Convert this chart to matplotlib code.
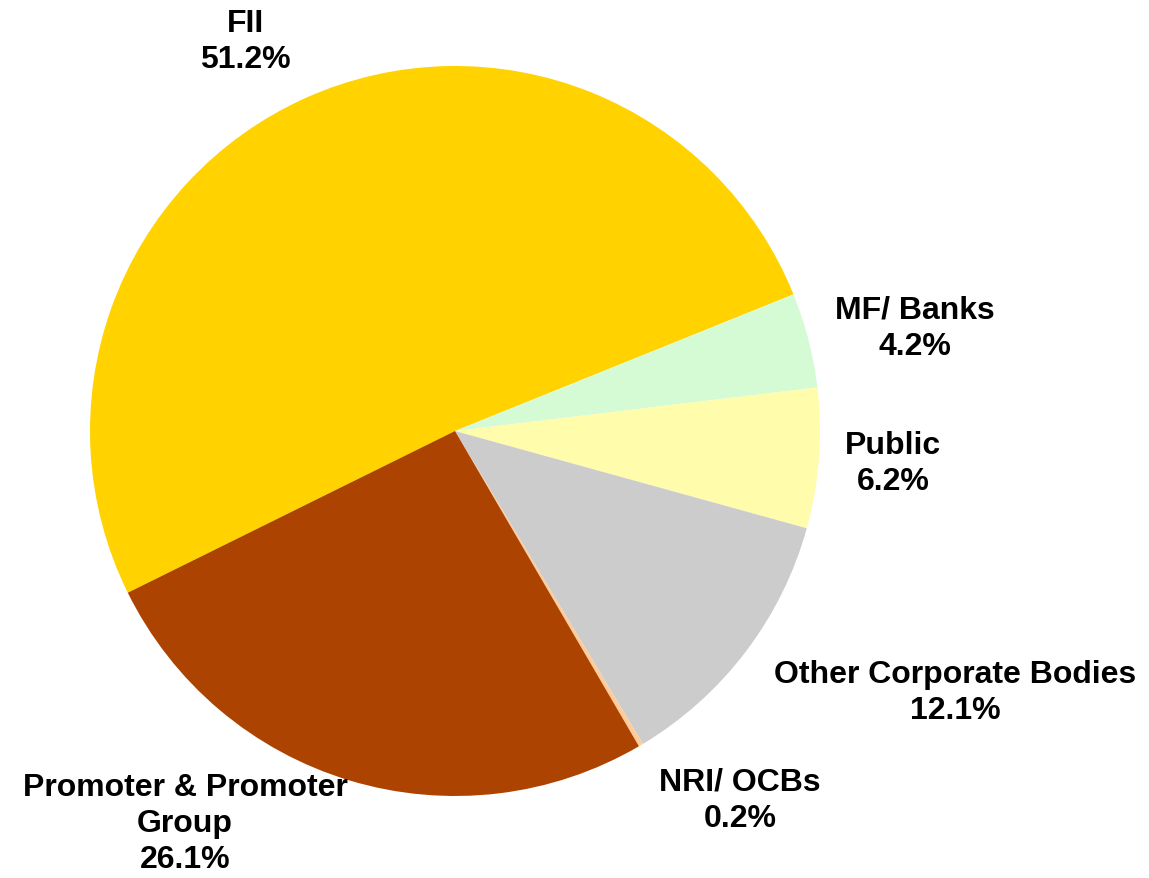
import matplotlib
matplotlib.use("Agg")
import matplotlib.pyplot as plt

categories = ["FII", "MF/ Banks", "Public", "Other Corporate Bodies", "NRI/ OCBs", "Promoter & Promoter\nGroup"]
values = [51.2, 4.2, 6.2, 12.1, 0.2, 26.1]
colors = ["#FFD200", "#D5FBD5", "#FFFCAC", "#CCCCCC", "#FFCC99", "#AD4300"]

W, H = 1149, 879
fig = plt.figure(figsize=(W / 100, H / 100), dpi=100)
cx, cy, r = 455, 432, 365
ax = fig.add_axes([(cx - r) / W, (H - cy - r) / H, 2 * r / W, 2 * r / H])
ax.pie(values, colors=colors, startangle=206.3, counterclock=False,
       radius=1.0, wedgeprops=dict(linewidth=0))
ax.set_xlim(-1, 1)
ax.set_ylim(-1, 1)
ax.set_aspect("equal")
ax.axis("off")

label_pos = [(245, 42), (915, 329), (893, 464), (955, 693), (740, 801), (185, 824)]
for name, v, (px, py) in zip(categories, values, label_pos):
    x = (px - cx) / r
    y = (cy - py) / r
    ax.text(x, y, f"{name}\n{v:.1f}%", ha="center", va="center",
            fontsize=23, fontweight="bold", family="Liberation Sans",
            linespacing=1.27, clip_on=False)

fig.savefig("out.png", dpi=100)
